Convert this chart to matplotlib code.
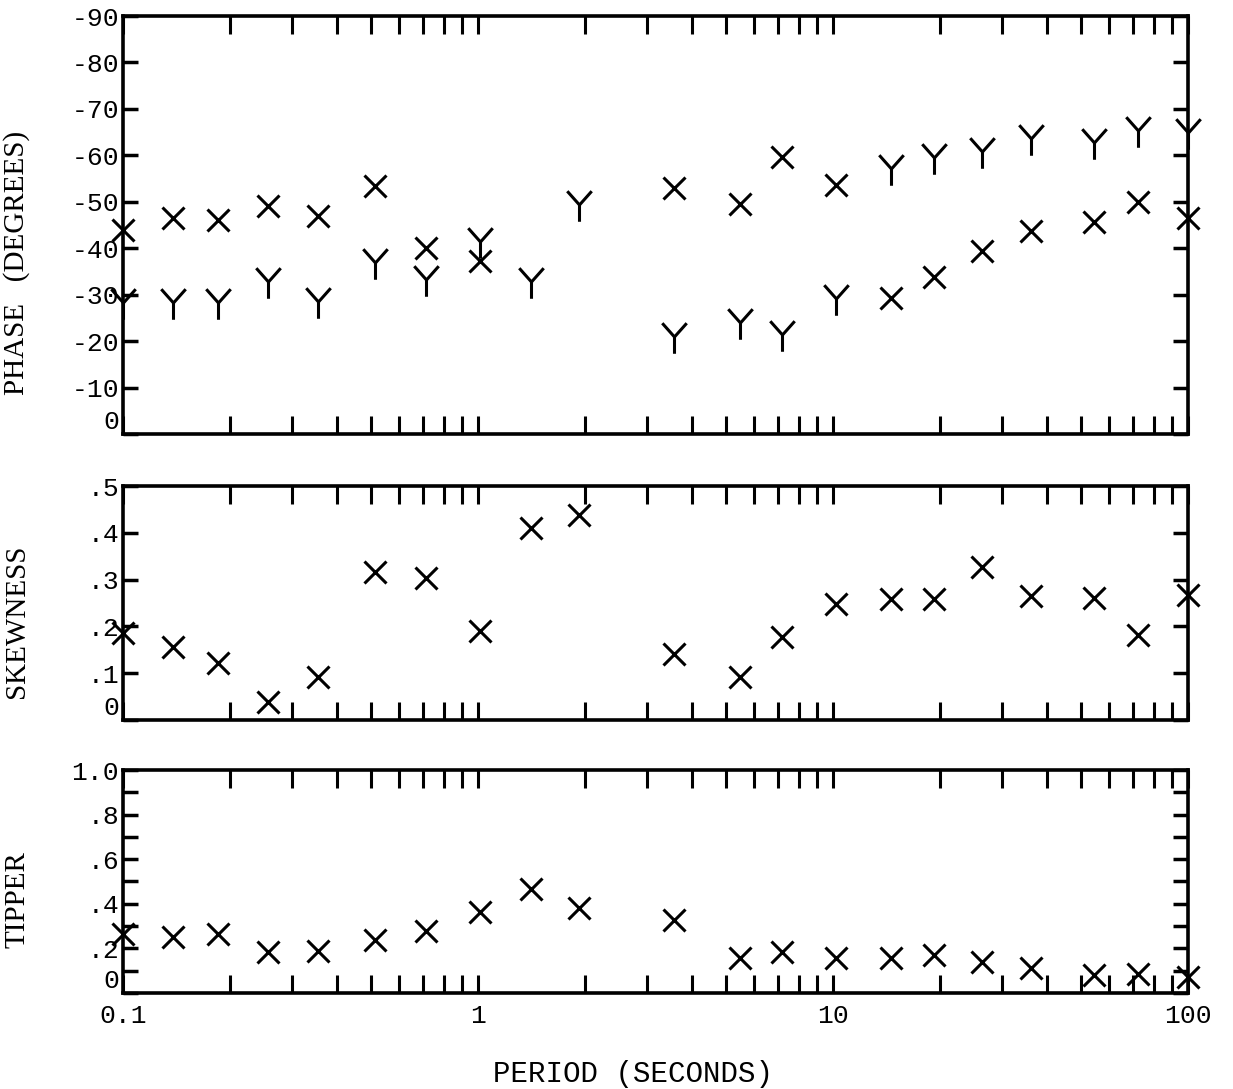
import numpy as np
import matplotlib.pyplot as plt
from matplotlib.path import Path
from matplotlib.ticker import LogLocator, NullFormatter
from matplotlib.transforms import ScaledTranslation

# period of each estimate (seconds)
periods = [0.1, 0.138, 0.185, 0.256, 0.355, 0.514, 0.714, 1.01, 1.41, 1.92,
           3.56, 5.48, 7.19, 10.2, 14.6, 19.3, 26.2, 36.1, 54.5, 72.5, 100]

# phase (degrees), X and Y polarisations
phase_x = [-44.0, -46.5, -46.1, -49.0, -46.9, -53.3, -40.1, -37.2, np.nan, np.nan,
           -52.9, -49.6, -59.6, -53.6, -29.3, -33.9, -39.3, -43.6, -45.7, -50.0, -46.4]
phase_y = [-27.9, -27.9, -27.9, -32.6, -28.3, -36.5, -32.9, -41.1, -32.6, -49.0,
           -20.7, -23.6, -21.1, -28.9, -56.8, -59.3, -60.4, -63.2, -62.5, -65.0, -64.6]

skewness = [0.186, 0.156, 0.121, 0.039, 0.092, 0.316, 0.304, 0.191, 0.411, 0.438,
            0.142, 0.092, 0.177, 0.247, 0.259, 0.259, 0.328, 0.266, 0.260, 0.182, 0.268]

tipper = [0.264, 0.249, 0.264, 0.183, 0.188, 0.238, 0.279, 0.364, 0.466, 0.381,
          0.326, 0.159, 0.182, 0.159, 0.159, 0.170, 0.141, 0.114, 0.081, 0.084, 0.070]

phase_ticks = [0, -10, -20, -30, -40, -50, -60, -70, -80, -90]
phase_labels = ["0", "-10", "-20", "-30", "-40", "-50", "-60", "-70", "-80", "-90"]
skew_ticks = [0, 0.1, 0.2, 0.3, 0.4, 0.5]
skew_labels = ["0", ".1", ".2", ".3", ".4", ".5"]
tip_ticks = [0, 0.2, 0.4, 0.6, 0.8, 1.0]
tip_labels = ["0", ".2", ".4", ".6", ".8", "1.0"]
period_ticks = [0.1, 1, 10, 100]
period_labels = ["0.1", "1", "10", "100"]

plt.rcParams["font.family"] = ["Liberation Mono", "DejaVu Sans"]
plt.rcParams["axes.unicode_minus"] = False

# hand-drawn looking "Y" symbol
Y_MARK = Path([(-0.4, 0.5), (0, 0.05), (0.4, 0.5), (0, 0.05), (0, -0.5)],
              [Path.MOVETO, Path.LINETO, Path.LINETO, Path.MOVETO, Path.LINETO])


def style(ax, ticks, labels, ylabel, label_y, minor_step=None, show_x=False):
    ax.set_xscale("log")
    ax.set_xlim(0.1, 100)
    ax.xaxis.set_major_locator(LogLocator(base=10))
    ax.xaxis.set_minor_locator(LogLocator(base=10, subs=range(2, 10)))
    ax.xaxis.set_minor_formatter(NullFormatter())
    if show_x:
        ax.set_xticks(period_ticks, period_labels)
        shift = ScaledTranslation(0.1, 0, ax.figure.dpi_scale_trans)
        for lab in ax.get_xticklabels():
            lab.set_transform(lab.get_transform() + shift)
    else:
        ax.set_xticks(period_ticks, [""] * 4)
    ax.set_yticks(ticks, labels)
    if minor_step:
        ax.set_yticks(np.arange(0, 1.0001, minor_step), minor=True)
    ax.tick_params(axis="x", which="both", direction="in", top=True, bottom=True,
                   length=13, width=2.2, labelsize=19, pad=8)
    ax.tick_params(axis="y", which="both", direction="in", left=True, right=True,
                   length=11, width=2.5, labelsize=19, pad=3)
    # the zero label sits just above the bottom frame
    ax.get_yticklabels()[0].set_verticalalignment("bottom")
    for s in ax.spines.values():
        s.set_linewidth(2.6)
    ax.set_ylabel(ylabel, family="Liberation Serif", fontsize=21)
    ax.yaxis.set_label_coords(-0.087, label_y)


fig = plt.figure(figsize=(12.33, 10.89), dpi=100)
ax1 = fig.add_axes([0.0998, 0.6015, 0.8637, 0.3838])
ax2 = fig.add_axes([0.0998, 0.3388, 0.8637, 0.2149])
ax3 = fig.add_axes([0.0998, 0.0882, 0.8637, 0.2047])

ax1.plot(periods, phase_x, ls="none", marker="x", ms=16, mew=2.2, color="black", clip_on=False)
ax1.plot(periods, phase_y, ls="none", marker=Y_MARK, ms=22, mew=2.2, color="black",
         mfc="none", clip_on=False)
ax1.set_ylim(0, -90)
style(ax1, phase_ticks, phase_labels, "PHASE   (DEGREES)", 0.41)

ax2.plot(periods, skewness, ls="none", marker="x", ms=16, mew=2.2, color="black", clip_on=False)
ax2.set_ylim(0, 0.5)
style(ax2, skew_ticks, skew_labels, "SKEWNESS", 0.42)

ax3.plot(periods, tipper, ls="none", marker="x", ms=16, mew=2.2, color="black", clip_on=False)
ax3.set_ylim(0, 1.0)
style(ax3, tip_ticks, tip_labels, "TIPPER", 0.42, minor_step=0.1, show_x=True)

fig.text(0.513, 1 - 1074 / 1089, "PERIOD (SECONDS)", ha="center", va="center", fontsize=21)

fig.savefig("out.png", dpi=100)
